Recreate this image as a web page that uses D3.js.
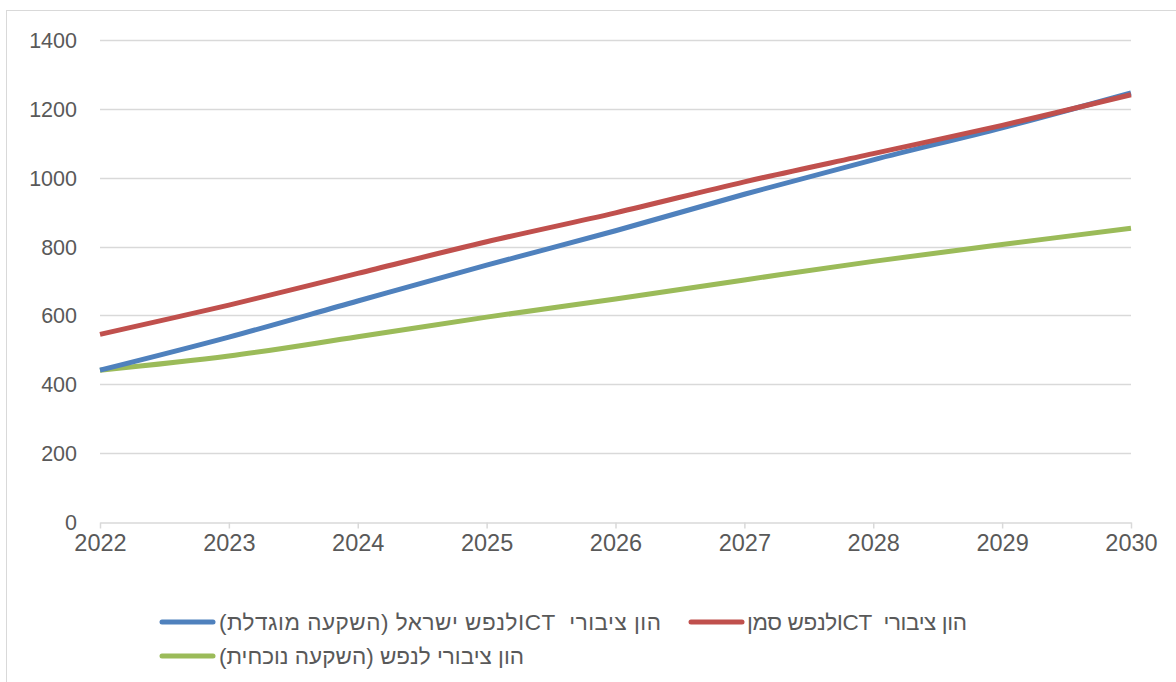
<!DOCTYPE html>
<html>
<head>
<meta charset="utf-8">
<script src="https://cdn.jsdelivr.net/npm/d3@7"></script>
<style>
  body { margin: 0; background: #fff; }
  text { font-family: "Liberation Sans", Arial, sans-serif; fill: #595959; }
</style>
</head>
<body>
<div id="main"></div>
<script>
const ctx = {
    w: 1176,
    h: 682,
    left: 100,
    right: 1131,
    top: 40,
    bottom: 522,
};

// data
const years = [2022, 2023, 2024, 2025, 2026, 2027, 2028, 2029, 2030];
const israelIncreased = [441, 537, 642, 746, 846, 952, 1052, 1145, 1246];
const benchmark = [545, 630, 722, 814, 898, 988, 1070, 1152, 1241];
const current = [441, 482, 538, 595, 648, 703, 757, 806, 853];
const yTicks = [0, 200, 400, 600, 800, 1000, 1200, 1400];

const seriesNames = [
    "הון ציבורי  ICTלנפש ישראל (השקעה מוגדלת)",
    "הון ציבורי  ICTלנפש סמן",
    "הון ציבורי לנפש (השקעה נוכחית)",
];
const colors = ["#4f81bd", "#c0504d", "#9bbb59"];

function createChart(svg) {
    const x = d3.scaleLinear()
        .domain([2022, 2030])
        .range([ctx.left, ctx.right]);
    const y = d3.scaleLinear()
        .domain([0, 1400])
        .range([ctx.bottom, ctx.top]);

    // outer frame
    svg.append("rect")
        .attr("x", 6.5).attr("y", 10.5)
        .attr("width", 1200).attr("height", 700)
        .attr("fill", "none")
        .attr("stroke", "#d9d9d9");

    // gridlines
    svg.append("g")
        .selectAll("line")
        .data(yTicks.filter(d => d > 0))
        .enter()
        .append("line")
        .attr("x1", ctx.left).attr("x2", ctx.right)
        .attr("y1", d => Math.round(y(d)) + 0.5)
        .attr("y2", d => Math.round(y(d)) + 0.5)
        .attr("stroke", "#d9d9d9")
        .attr("stroke-width", 1.5);

    // y axis labels
    const yAxis = svg.append("g")
        .attr("transform", `translate(${ctx.left - 23},0)`)
        .call(d3.axisLeft(y).tickValues(yTicks).tickFormat(d3.format("d")).tickSize(0).tickPadding(0));
    yAxis.select(".domain").remove();
    yAxis.selectAll("text")
        .style("font-size", "21.5px")
        .attr("dy", "0.35em");

    // x axis
    const xAxis = svg.append("g")
        .attr("transform", `translate(0,${ctx.bottom + 0.5})`)
        .call(d3.axisBottom(x).tickValues(years).tickFormat(d3.format("d")).tickSize(6).tickSizeOuter(0).tickPadding(6));
    xAxis.select(".domain").attr("stroke", "#d9d9d9").attr("stroke-width", 1.5);
    xAxis.selectAll(".tick line").attr("stroke", "#d9d9d9").attr("stroke-width", 1.5);
    xAxis.selectAll("text")
        .style("font-size", "23.5px");

    // lines
    const allSeries = [israelIncreased, benchmark, current];
    const line = d3.line()
        .x((d, i) => x(years[i]))
        .y(d => y(d))
        .curve(d3.curveCatmullRom.alpha(0.5));

    // draw green first, then blue, red on top
    [2, 0, 1].forEach(k => {
        svg.append("path")
            .datum(allSeries[k])
            .attr("d", line)
            .attr("fill", "none")
            .attr("stroke", colors[k])
            .attr("stroke-width", 5)
            .attr("stroke-linejoin", "round");
    });

    // legend
    const legendItems = [
        { k: 0, x0: 162, y0: 622, textLeft: 219, textRight: 661 },
        { k: 1, x0: 691, y0: 622, textLeft: 747, textRight: 967 },
        { k: 2, x0: 162, y0: 656, textLeft: 219, textRight: 524 },
    ];
    const lg = svg.append("g").selectAll("g")
        .data(legendItems)
        .enter()
        .append("g");
    lg.append("line")
        .attr("x1", d => d.x0).attr("x2", d => d.x0 + 51)
        .attr("y1", d => d.y0).attr("y2", d => d.y0)
        .attr("stroke", d => colors[d.k])
        .attr("stroke-width", 5)
        .attr("stroke-linecap", "round");
    lg.append("text")
        .attr("x", d => d.textRight)
        .attr("y", d => d.y0)
        .attr("dy", "0.35em")
        .attr("direction", "rtl")
        .style("unicode-bidi", "embed")
        .style("white-space", "pre")
        .attr("text-anchor", "start")
        .attr("textLength", d => d.textRight - d.textLeft)
        .attr("lengthAdjust", "spacing")
        .style("font-size", "22.5px")
        .text(d => seriesNames[d.k]);
}

function createViz() {
    let svgEl = d3.select("#main").append("svg");
    svgEl.attr("width", ctx.w);
    svgEl.attr("height", ctx.h);
    createChart(svgEl);
}

createViz();
</script>
</body>
</html>
